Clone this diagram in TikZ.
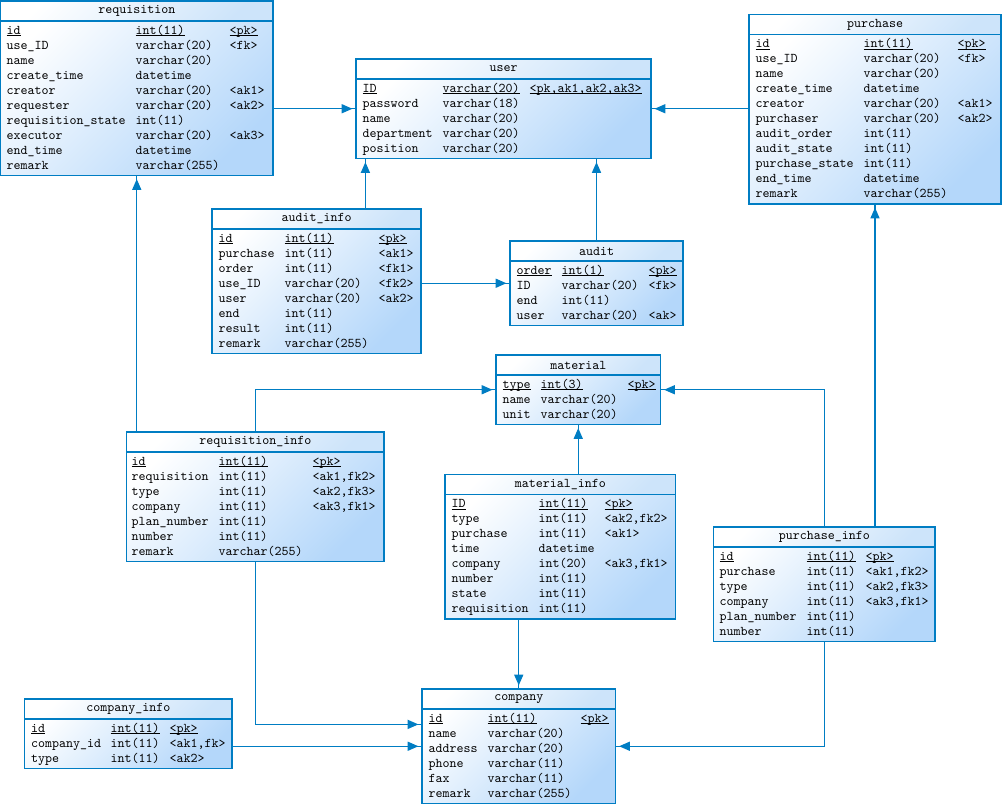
\documentclass[tikz,border=0pt]{standalone}
\usepackage{fontspec}
\usetikzlibrary{fit,calc,arrows.meta,decorations.markings}
\definecolor{erline}{RGB}{0,125,195}
\definecolor{erfill}{RGB}{180,215,250}
\definecolor{erhead}{RGB}{205,228,250}
\newcommand\ercolfont{\ttfamily\fontsize{10}{11.25}\selectfont\lineskiplimit=-100pt\relax}
\newcommand\erkey[1]{\sbox0{#1}\rlap{\rule[-1.3pt]{\wd0}{0.6pt}}\usebox0}
\tikzset{every picture/.style={line width=0.9pt}}
\tikzset{
	tbody/.style={draw=erline, inner sep=0pt, top color=white, bottom color=erfill, shading angle=45},
	thead/.style={draw=erline, inner sep=0pt, top color=white, bottom color=erhead, shading angle=45},
	ttitle/.style={inner sep=0pt, font=\ttfamily\fontsize{10}{11.25}\selectfont},
	tcol/.style={anchor=north west, inner sep=0pt, align=left, font=\ercolfont},
	fk/.style={erline, postaction={decorate}, decoration={markings, mark=at position -2.25pt with {\arrow{Triangle[length=8pt,width=6.75pt]}}}}}

\begin{document}
\begin{tikzpicture}[x=0.75pt,y=0.75pt,yscale=-1,xscale=1]
	\useasboundingbox (0,0) rectangle (1002,805);

	%Shape: Table [requisition]
	\node [tbody, fit={(0.5,1) (273,175.5)}] (requisition) {};
	\node [thead, fit={(0.5,1) (273,21)}] (requisition_h) {};
	% Text Node
	\node [ttitle] (requisition_t) at (requisition_h) {requisition};
	\node [tcol] (requisition_c1) at (6,23) {\strut\erkey{id}\\use\_ID\\name\\create\_time\\creator\\requester\\requisition\_state\\executor\\end\_time\\remark};
	\node [tcol] (requisition_c2) at (135,23) {\strut\erkey{int(11)}\\varchar(20)\\varchar(20)\\datetime\\varchar(20)\\varchar(20)\\int(11)\\varchar(20)\\datetime\\varchar(255)};
	\node [tcol] (requisition_c3) at (229,23) {\strut\erkey{<pk>}\\<fk>\\ \\ \\<ak1>\\<ak2>\\ \\<ak3>};

	%Shape: Table [user]
	\node [tbody, fit={(356,59) (651,158.5)}] (user) {};
	\node [thead, fit={(356,59) (651,79)}] (user_h) {};
	% Text Node
	\node [ttitle] (user_t) at (user_h) {user};
	\node [tcol] (user_c1) at (362,81) {\strut\erkey{ID}\\password\\name\\department\\position};
	\node [tcol] (user_c2) at (442,81) {\strut\erkey{varchar(20)}\\varchar(18)\\varchar(20)\\varchar(20)\\varchar(20)};
	\node [tcol] (user_c3) at (529,81) {\strut\erkey{<pk,ak1,ak2,ak3>}};

	%Shape: Table [purchase]
	\node [tbody, fit={(749,14.5) (1001,204)}] (purchase) {};
	\node [thead, fit={(749,14.5) (1001,34.5)}] (purchase_h) {};
	% Text Node
	\node [ttitle] (purchase_t) at (purchase_h) {purchase};
	\node [tcol] (purchase_c1) at (755,36.5) {\strut\erkey{id}\\use\_ID\\name\\create\_time\\creator\\purchaser\\audit\_order\\audit\_state\\purchase\_state\\end\_time\\remark};
	\node [tcol] (purchase_c2) at (863,36.5) {\strut\erkey{int(11)}\\varchar(20)\\varchar(20)\\datetime\\varchar(20)\\varchar(20)\\int(11)\\int(11)\\int(11)\\datetime\\varchar(255)};
	\node [tcol] (purchase_c3) at (957,36.5) {\strut\erkey{<pk>}\\<fk>\\ \\ \\<ak1>\\<ak2>};

	%Shape: Table [audit_info]
	\node [tbody, fit={(212,209) (421,353.5)}] (audit_info) {};
	\node [thead, fit={(212,209) (421,229)}] (audit_info_h) {};
	% Text Node
	\node [ttitle] (audit_info_t) at (audit_info_h) {audit\_info};
	\node [tcol] (audit_info_c1) at (218,231) {\strut\erkey{id}\\purchase\\order\\use\_ID\\user\\end\\result\\remark};
	\node [tcol] (audit_info_c2) at (284,231) {\strut\erkey{int(11)}\\int(11)\\int(11)\\varchar(20)\\varchar(20)\\int(11)\\int(11)\\varchar(255)};
	\node [tcol] (audit_info_c3) at (378,231) {\strut\erkey{<pk>}\\<ak1>\\<fk1>\\<fk2>\\<ak2>};

	%Shape: Table [audit]
	\node [tbody, fit={(510,241) (683,325.5)}] (audit) {};
	\node [thead, fit={(510,241) (683,261)}] (audit_h) {};
	% Text Node
	\node [ttitle] (audit_t) at (audit_h) {audit};
	\node [tcol] (audit_c1) at (516,263) {\strut\erkey{order}\\ID\\end\\user};
	\node [tcol] (audit_c2) at (561,263) {\strut\erkey{int(1)}\\varchar(20)\\int(11)\\varchar(20)};
	\node [tcol] (audit_c3) at (648,263) {\strut\erkey{<pk>}\\<fk>\\ \\<ak>};

	%Shape: Table [material]
	\node [tbody, fit={(496,355) (660.5,424.5)}] (material) {};
	\node [thead, fit={(496,355) (660.5,375)}] (material_h) {};
	% Text Node
	\node [ttitle] (material_t) at (material_h) {material};
	\node [tcol] (material_c1) at (502,377) {\strut\erkey{type}\\name\\unit};
	\node [tcol] (material_c2) at (540,377) {\strut\erkey{int(3)}\\varchar(20)\\varchar(20)};
	\node [tcol] (material_c3) at (627,377) {\strut\erkey{<pk>}};

	%Shape: Table [requisition_info]
	\node [tbody, fit={(126.5,432) (384,561.5)}] (requisition_info) {};
	\node [thead, fit={(126.5,432) (384,452)}] (requisition_info_h) {};
	% Text Node
	\node [ttitle] (requisition_info_t) at (requisition_info_h) {requisition\_info};
	\node [tcol] (requisition_info_c1) at (131,454) {\strut\erkey{id}\\requisition\\type\\company\\plan\_number\\number\\remark};
	\node [tcol] (requisition_info_c2) at (218,454) {\strut\erkey{int(11)}\\int(11)\\int(11)\\int(11)\\int(11)\\int(11)\\varchar(255)};
	\node [tcol] (requisition_info_c3) at (312,454) {\strut\erkey{<pk>}\\<ak1,fk2>\\<ak2,fk3>\\<ak3,fk1>};

	%Shape: Table [material_info]
	\node [tbody, fit={(445,474.5) (675.5,619)}] (material_info) {};
	\node [thead, fit={(445,474.5) (675.5,494.5)}] (material_info_h) {};
	% Text Node
	\node [ttitle] (material_info_t) at (material_info_h) {material\_info};
	\node [tcol] (material_info_c1) at (451,496.5) {\strut\erkey{ID}\\type\\purchase\\time\\company\\number\\state\\requisition};
	\node [tcol] (material_info_c2) at (538,496.5) {\strut\erkey{int(11)}\\int(11)\\int(11)\\datetime\\int(20)\\int(11)\\int(11)\\int(11)};
	\node [tcol] (material_info_c3) at (604,496.5) {\strut\erkey{<pk>}\\<ak2,fk2>\\<ak1>\\ \\<ak3,fk1>};

	%Shape: Table [purchase_info]
	\node [tbody, fit={(713.5,527) (935,641.5)}] (purchase_info) {};
	\node [thead, fit={(713.5,527) (935,547)}] (purchase_info_h) {};
	% Text Node
	\node [ttitle] (purchase_info_t) at (purchase_info_h) {purchase\_info};
	\node [tcol] (purchase_info_c1) at (719,549) {\strut\erkey{id}\\purchase\\type\\company\\plan\_number\\number};
	\node [tcol] (purchase_info_c2) at (806,549) {\strut\erkey{int(11)}\\int(11)\\int(11)\\int(11)\\int(11)\\int(11)};
	\node [tcol] (purchase_info_c3) at (865,549) {\strut\erkey{<pk>}\\<ak1,fk2>\\<ak2,fk3>\\<ak3,fk1>};

	%Shape: Table [company_info]
	\node [tbody, fit={(24.5,699) (232,768.5)}] (company_info) {};
	\node [thead, fit={(24.5,699) (232,719)}] (company_info_h) {};
	% Text Node
	\node [ttitle] (company_info_t) at (company_info_h) {company\_info};
	\node [tcol] (company_info_c1) at (30.5,721) {\strut\erkey{id}\\company\_id\\type};
	\node [tcol] (company_info_c2) at (110,721) {\strut\erkey{int(11)}\\int(11)\\int(11)};
	\node [tcol] (company_info_c3) at (169,721) {\strut\erkey{<pk>}\\<ak1,fk>\\<ak2>};

	%Shape: Table [company]
	\node [tbody, fit={(422,689) (615.5,803.5)}] (company) {};
	\node [thead, fit={(422,689) (615.5,709)}] (company_h) {};
	% Text Node
	\node [ttitle] (company_t) at (company_h) {company};
	\node [tcol] (company_c1) at (428,711) {\strut\erkey{id}\\name\\address\\phone\\fax\\remark};
	\node [tcol] (company_c2) at (487,711) {\strut\erkey{int(11)}\\varchar(20)\\varchar(20)\\varchar(11)\\varchar(11)\\varchar(255)};
	\node [tcol] (company_c3) at (580,711) {\strut\erkey{<pk>}};

	%Reference points on table edges
	\coordinate (user_a) at ([xshift=7.5pt]user.south west);
	\coordinate (company_a) at ([yshift=27pt]company.north west);

	%Reference lines
	\draw [fk] (requisition.east |- user.west) -- (user.west);
	\draw [fk] (purchase.west |- user.east) -- (user.east);
	\draw [fk] (audit_info.north -| user_a) -- (user_a);
	\draw [fk] (audit.north) -- (audit.north |- user.south);
	\draw [fk] (audit_info.east |- audit.west) -- (audit.west);
	\draw [fk] (requisition_info.north -| requisition.south) -- (requisition.south);
	\draw [fk] (requisition_info.north) |- (material.west);
	\draw [fk] (material_info.north -| material.south) -- (material.south);
	\draw [fk] (purchase_info.north) |- (material.east);
	\draw [fk] (purchase_info.north -| purchase.south) -- (purchase.south);
	\draw [fk] (requisition_info.south) |- (company_a);
	\draw [fk] (material_info.south -| company.north) -- (company.north);
	\draw [fk] (company_info.east |- company.west) -- (company.west);
	\draw [fk] (purchase_info.south) |- (company.east);

\end{tikzpicture}
\end{document}
